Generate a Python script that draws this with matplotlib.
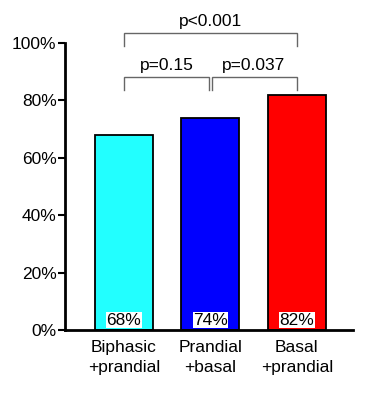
import numpy as np
import matplotlib.pyplot as plt
from matplotlib.ticker import PercentFormatter

plt.rcParams['font.family'] = ['Liberation Sans', 'DejaVu Sans']

categories = ['Biphasic\n+prandial', 'Prandial\n+basal', 'Basal\n+prandial']
values = [68, 74, 82]
bar_colors = ['#22ffff', '#0000ff', '#ff0000']
# comparisons: (i, j, label, bracket height in %)
comparisons = [(0, 1, 'p=0.15', 88), (1, 2, 'p=0.037', 88), (0, 2, 'p<0.001', 103.5)]

fs = 12.5

fig = plt.figure(figsize=(3.69, 3.97), dpi=100)
ax = fig.add_axes([0.176, 0.169, 0.781, 0.723])

x = np.arange(len(values))
ax.bar(x, values, width=0.67, color=bar_colors, edgecolor='black', linewidth=1.3, zorder=2)

for xi, v in zip(x, values):
    ax.text(xi, 0.8, f'{v}%', ha='center', va='bottom', fontsize=fs,
            bbox=dict(facecolor='white', edgecolor='none', pad=0.3), zorder=3)

for i, j, lab, h in comparisons:
    xi, xj = x[i], x[j]
    if lab != 'p<0.001':
        xi += 0.015 if i == 1 else 0
        xj -= 0.015 if j == 1 else 0
    ax.plot([xi, xi, xj, xj], [h - 4.5, h, h, h - 4.5], color='#666666', lw=1,
            clip_on=False, solid_joinstyle='miter')
    ax.text((x[i] + x[j]) / 2, h + 1.5, lab, ha='center', va='bottom', fontsize=fs)

ax.set_xlim(-0.68, 2.65)
ax.set_ylim(0, 100)
ax.set_yticks(np.arange(0, 101, 20))
ax.yaxis.set_major_formatter(PercentFormatter(decimals=0))
ax.set_xticks(x)
ax.set_xticklabels(categories, linespacing=1.45)
ax.tick_params(axis='x', length=0, labelsize=fs, pad=7)
ax.tick_params(axis='y', length=5, width=1.5, labelsize=fs, pad=1)
for s in ['top', 'right']:
    ax.spines[s].set_visible(False)
for s in ['left', 'bottom']:
    ax.spines[s].set_linewidth(2)

fig.savefig('out.png', dpi=100)
